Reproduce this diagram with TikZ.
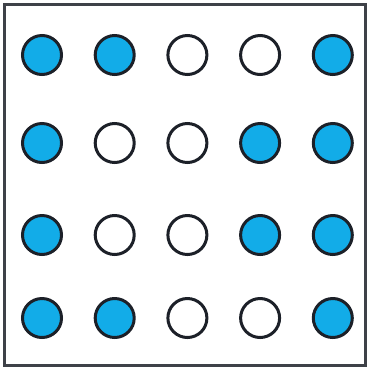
\documentclass[tikz,border=0pt]{standalone}
\usepackage{tikz}
\usetikzlibrary{positioning}
\usepackage{xcolor}
\definecolor{dotcol}{RGB}{18,172,232}
\definecolor{rimcol}{RGB}{28,32,40}
\tikzset{
  % filled site
  onsite/.style={circle, draw=rimcol, fill=dotcol, line width=3pt, minimum size=39pt, inner sep=0pt},
  % empty site
  offsite/.style={circle, draw=rimcol, fill=white, line width=3pt, minimum size=39pt, inner sep=0pt},
  % outer frame
  framebox/.style={draw=rimcol!85, line width=3pt},
}

\begin{document}
\begin{tikzpicture}[x=1pt, y=-1pt]

  \useasboundingbox (0,0) rectangle (369,368);

  % ── frame ──
  \draw[framebox] (4.5,4.5) rectangle (365,365.5);

  % ── sites, row by row (1 = filled) ──
  \foreach \pat [count=\r] in {{1,1,0,0,1},{1,0,0,1,1},{1,0,0,1,1},{1,1,0,0,1}} {
    \pgfmathsetmacro{\yy}{{55,143,235,318}[\r-1]}
    \foreach \v [count=\c] in \pat {
      \pgfmathsetmacro{\xx}{42+72.7*(\c-1)}
      \ifnum\v=1
        \node[onsite] (s\r\c) at (\xx,\yy) {};
      \else
        \node[offsite] (s\r\c) at (\xx,\yy) {};
      \fi
    }
  }

\end{tikzpicture}
\end{document}
